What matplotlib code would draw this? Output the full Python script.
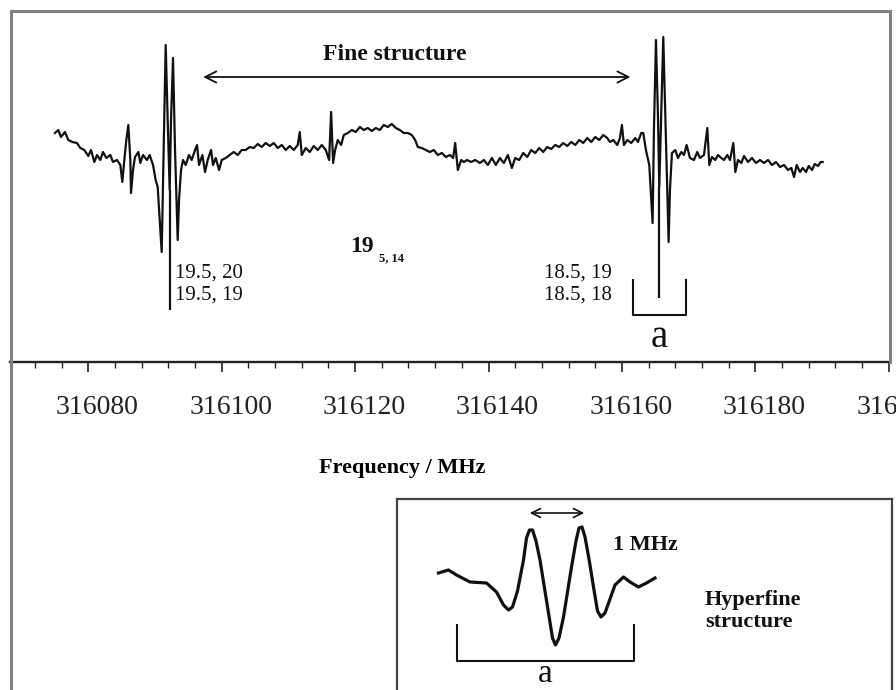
import numpy as np
import matplotlib
matplotlib.use("Agg")
import matplotlib.pyplot as plt
from matplotlib.lines import Line2D
from matplotlib.transforms import ScaledTranslation

plt.rcParams['font.family'] = ['Liberation Serif', 'DejaVu Serif']

# spectrum trace: frequency offset from 316000 MHz and signal (a.u.)
BASE = 316000
freq_off = [
    75.0, 75.5, 75.9, 76.5, 77.0, 77.6, 78.3, 78.8, 79.4, 80.0,
    80.4, 80.9, 81.3, 81.8, 82.2, 82.7, 83.3, 83.7, 84.3, 84.8,
    85.1, 85.4, 85.7, 86.0, 86.3, 86.4, 86.7, 87.0, 87.5, 87.8,
    88.2, 88.8, 89.2, 89.7, 90.1, 90.4, 91.0, 91.3, 91.6, 91.9,
    92.2, 92.4, 92.7, 93.0, 93.4, 93.6, 93.9, 94.2, 94.6, 95.1,
    95.5, 96.0, 96.3, 96.6, 97.1, 97.5, 97.9, 98.4, 98.7, 99.1,
    99.6, 100.0, 100.6, 101.2, 101.8, 102.4, 103.0, 103.6, 104.2, 104.8,
    105.4, 106.0, 106.6, 107.2, 107.8, 108.4, 109.0, 109.6, 110.2, 110.8,
    111.4, 111.7, 112.0, 112.6, 113.2, 113.8, 114.4, 115.0, 115.6, 116.1,
    116.4, 116.7, 117.0, 117.4, 117.9, 118.3, 118.9, 119.5, 120.1, 120.7,
    121.3, 121.9, 122.5, 123.1, 123.7, 124.3, 124.9, 125.5, 126.1, 126.7,
    127.3, 127.9, 128.5, 129.0, 129.4, 130.0, 130.6, 131.2, 131.8, 132.4,
    133.0, 133.6, 134.2, 134.7, 135.0, 135.4, 135.9, 136.3, 136.8, 137.4,
    138.0, 138.7, 139.3, 139.9, 140.5, 141.1, 141.7, 142.3, 142.9, 143.5,
    144.0, 144.6, 145.2, 145.8, 146.4, 147.0, 147.6, 148.2, 148.8, 149.4,
    150.0, 150.6, 151.2, 151.8, 152.4, 153.0, 153.6, 154.2, 154.8, 155.4,
    156.0, 156.6, 157.2, 157.8, 158.2, 158.7, 159.3, 159.7, 160.0, 160.3,
    160.8, 161.4, 162.0, 162.4, 162.9, 163.2, 163.6, 164.1, 164.6, 164.8,
    165.1, 165.4, 165.6, 165.9, 166.2, 166.6, 167.0, 167.2, 167.5, 168.0,
    168.4, 168.9, 169.3, 169.7, 170.2, 170.8, 171.3, 171.7, 172.3, 172.8,
    173.1, 173.5, 174.0, 174.4, 174.9, 175.3, 175.8, 176.2, 176.7, 177.0,
    177.4, 177.9, 178.3, 178.9, 179.5, 180.1, 180.7, 181.3, 181.9, 182.5,
    183.1, 183.7, 184.3, 184.9, 185.4, 185.8, 186.2, 186.7, 187.1, 187.6,
    188.0, 188.5, 188.9, 189.4, 189.8, 190.1,
]
signal = [
    17, 20, 13, 18, 10, 8, 7, 2, 0, -6,
    0, -12, -5, -10, -2, -8, -5, -12, -10, -15,
    -32, -10, 10, 25, -10, -43, -20, -7, -2, -13,
    -5, -10, -5, -15, -30, -37, -102, 0, 105, 30,
    -40, 30, 92, 0, -90, -50, -20, -10, -15, -5,
    -10, 0, 5, -15, -5, -22, -10, 0, -15, -8,
    -20, -10, -8, -5, -2, -5, 0, 0, 3, 2,
    6, 3, 7, 4, 7, 2, 5, 0, 4, 0,
    5, 18, -5, 2, -2, 4, 0, 5, 0, -10,
    38, -13, 0, 10, 5, 15, 17, 20, 18, 23,
    20, 22, 19, 22, 20, 25, 23, 26, 22, 20,
    17, 17, 15, 10, 3, 2, 0, -2, 0, -5,
    -3, -7, -5, -8, 7, -20, -10, -12, -10, -12,
    -10, -13, -10, -15, -8, -15, -8, -13, -5, -18,
    -8, -10, -3, -7, 0, -3, 2, -2, 3, 1,
    5, 3, 7, 4, 8, 5, 10, 7, 12, 8,
    13, 10, 15, 12, 8, 10, 5, 12, 25, 5,
    10, 7, 12, 8, 17, 17, 0, -15, -73, 20,
    110, 35, -37, 40, 113, 10, -92, -40, -3, 0,
    -8, -2, -5, 5, -8, -10, -2, -8, -5, 22,
    -15, -7, -10, -5, -8, -10, -5, -10, 7, -22,
    -10, -13, -6, -12, -8, -13, -10, -13, -10, -15,
    -12, -17, -15, -20, -18, -27, -15, -22, -18, -22,
    -16, -20, -14, -16, -12, -12,
]

# hyperfine groups: line centre, bottom of marker stick, quantum-number labels
group_centre = [316092.2, 316165.6]
group_top = [-40, -37]
group_stick_end = [-160, -148]
group_labels = ["19.5, 20\n19.5, 19", "18.5, 19\n18.5, 18"]

# enlarged hyperfine pattern: offset from centre (MHz) and signal (a.u.)
hf_off = [-2.33, -2.13, -1.97, -1.70, -1.37, -1.17, -1.03, -0.93, -0.85, -0.75,
          -0.63, -0.57, -0.51, -0.45, -0.38, -0.30, -0.13, -0.05, 0.01, 0.08,
          0.17, 0.33, 0.42, 0.48, 0.54, 0.60, 0.68, 0.77, 0.85, 0.92,
          1.00, 1.10, 1.20, 1.37, 1.50, 1.67, 1.83, 2.00]
hf_sig = [10, 13, 8, 1, 0, -9, -22, -27, -24, -8,
          23, 45, 53, 53, 42, 23, -30, -55, -62, -55,
          -34, 16, 42, 55, 56, 46, 24, -4, -28, -34,
          -30, -16, -2, 6, 1, -4, 0, 5]

major_ticks = np.arange(316080, 316201, 20)
minor_ticks = np.arange(316072, 316201, 4)

W, H = 896, 690
fig = plt.figure(figsize=(W / 100, H / 100), dpi=100)
ink = "#111111"

# outer frame
frame = dict(color="#808080", lw=2.2, transform=fig.transFigure)
fig.add_artist(Line2D([10.5 / W, 10.5 / W], [1 - 11 / H, 0], **frame))
fig.add_artist(Line2D([10.5 / W, 890 / W], [1 - 11 / H, 1 - 11 / H], **frame))
fig.add_artist(Line2D([890 / W, 890 / W], [1 - 11 / H, 1 - 362 / H], **frame))

# main spectrum
ax = fig.add_axes([0, 1 - 362 / H, 1, 362 / H])
ax.patch.set_visible(False)
ax.set_xlim(316066.76, 316201.09)
ax.set_ylim(-212, 150)
ax.plot(BASE + np.array(freq_off), signal, color=ink, lw=1.6)
ax.vlines(group_centre, group_stick_end, group_top, color=ink, lw=1.6)

for side in ("top", "left", "right"):
    ax.spines[side].set_visible(False)
ax.spines["bottom"].set_linewidth(1.7)
ax.spines["bottom"].set_color("#222222")
ax.spines["bottom"].set_bounds(316068.3, 316200)
ax.set_yticks([])
ax.set_xticks(major_ticks)
ax.set_xticks(minor_ticks, minor=True)
ax.set_xticklabels([str(t) for t in major_ticks])
ax.tick_params(axis="x", which="major", length=7, width=1.2, direction="out",
               pad=17, labelsize=20, colors="#222222")
ax.tick_params(axis="x", which="minor", length=4, width=1.0, direction="out",
               colors="#222222")
shift = ScaledTranslation(9 / 100, 0, fig.dpi_scale_trans)
for lab in ax.get_xticklabels():
    lab.set_transform(lab.get_transform() + shift)

ax.set_xlabel("Frequency / MHz", fontsize=16, fontweight="bold")
ax.xaxis.set_label_coords(402 / W, (362 - 458) / 362)

# fine-structure arrow and labels
ax.annotate("", xy=(316096.8, 73), xytext=(316161.7, 73),
            arrowprops=dict(arrowstyle="<->", lw=1.3, color=ink, mutation_scale=20))
ax.text(316125.9, 95, "Fine structure", fontsize=17, fontweight="bold",
        ha="center", va="center", color=ink)
ax.text(316119.2, -97, "19", fontsize=17, fontweight="bold", ha="left",
        va="center", color=ink)
ax.text(316123.6, -108, "5, 14", fontsize=9, fontweight="bold", ha="left",
        va="center", color=ink)
ax.text(316093.0, -134, group_labels[0], fontsize=15, ha="left", va="center",
        linespacing=1.15, color=ink)
ax.text(316148.3, -134, group_labels[1], fontsize=15, ha="left", va="center",
        linespacing=1.15, color=ink)

# bracket "a" under the right-hand group
c = group_centre[1]
ax.plot([c - 4, c - 4, c + 4, c + 4], [-130, -165, -165, -130], color=ink, lw=1.5)
ax.text(c, -197, "a", fontsize=28, ha="center", va="baseline", color=ink)

# inset with the hyperfine pattern
ins = fig.add_axes([397 / W, -2 / H, (892 - 397) / W, (692 - 499) / H])
ins.set_xlim(-3.16, 6.74)
ins.set_ylim(-109, 84)
ins.set_xticks([])
ins.set_yticks([])
for s in ins.spines.values():
    s.set_color("#444444")
    s.set_linewidth(1.6)
ins.plot(hf_off, hf_sig, color=ink, lw=2.3)
ins.annotate("", xy=(-0.56, 70), xytext=(0.64, 70),
             arrowprops=dict(arrowstyle="<->", lw=1.2, color=ink, mutation_scale=16))
ins.text(1.16, 38, "1 MHz", fontsize=16, fontweight="bold", ha="left",
         va="center", color=ink)
ins.text(3.0, -28, "Hyperfine\nstructure", fontsize=16, fontweight="bold",
         ha="left", va="center", linespacing=1.1, color=ink)
ins.plot([-1.96, -1.96, 1.58, 1.58], [-42, -78, -78, -42], color=ink, lw=1.5)
ins.text(-0.2, -99, "a", fontsize=24, ha="center", va="baseline", color=ink)

fig.savefig("out.png", dpi=100, facecolor="white")
